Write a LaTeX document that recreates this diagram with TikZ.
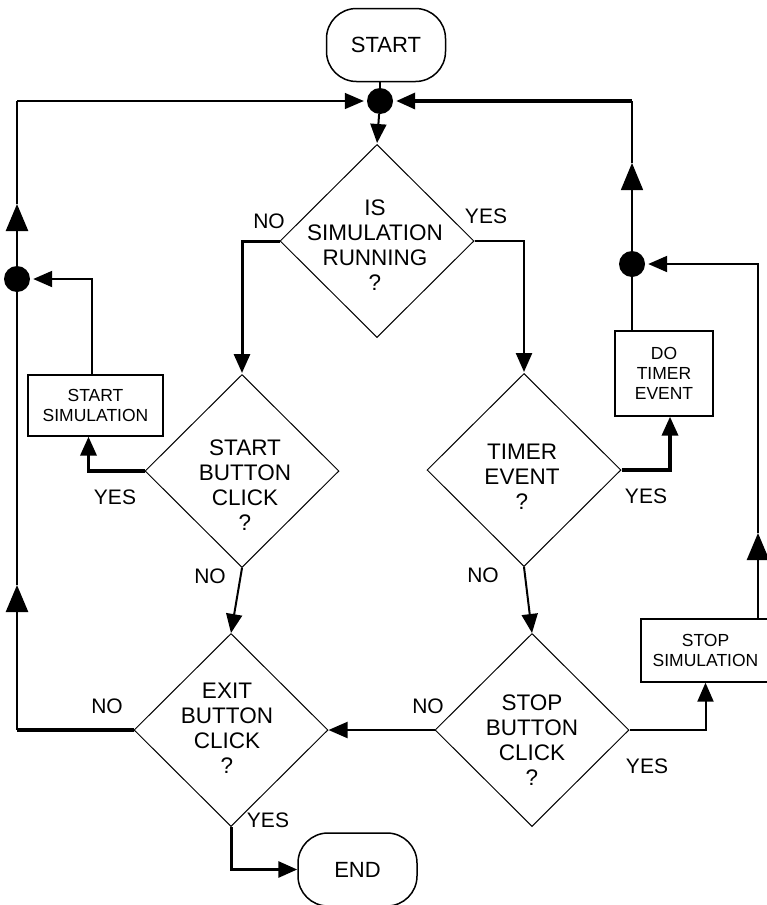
\documentclass[tikz,border=0pt]{standalone}
\usepackage{fontspec}
\setmainfont{Liberation Sans}
\usetikzlibrary{arrows.meta,shapes.geometric}
\begin{document}
\begin{tikzpicture}[x=1pt,y=-1pt,
  dia/.style={diamond,draw,line width=1pt,minimum width=194pt,minimum height=193pt,inner sep=0pt},
  dtext/.style={align=center,font=\fontsize{22.5}{25}\selectfont,inner sep=0pt},
  boxnode/.style={draw,line width=1.3pt,align=center,font=\fontsize{17.5}{20}\selectfont,inner sep=0pt},
  term/.style={draw,line width=1.5pt,rounded corners=30pt,minimum width=119pt,minimum height=73pt,font=\fontsize{22}{25}\selectfont},
  lbl/.style={font=\fontsize{21}{24}\selectfont,inner sep=0pt},
  jdot/.style={circle,fill,minimum size=26pt,inner sep=0pt},
  arr/.style={-{Triangle[length=19pt,width=16pt]}},
  bigarr/.style={-{Triangle[length=27pt,width=22pt]}},
  w15/.style={line width=1.5pt},
  w2/.style={line width=2pt},
  w25/.style={line width=2.5pt},
  w3/.style={line width=3pt},
  w35/.style={line width=3.5pt}]
\fill[white] (0,0) rectangle (767,905);
\useasboundingbox (0,0) rectangle (767,905);
% nodes
\node[term] (start) at (386,45) {START};
\node[jdot] (dot0) at (380,101) {};
\node[dia] (d1) at (377,241) {};
\node[dtext] (d1t) at (375,245) {IS\\SIMULATION\\RUNNING\\?};
\node[dia] (d2) at (242,471) {};
\node[dtext] (d2t) at (245,485) {START\\BUTTON\\CLICK\\?};
\node[dia] (d3) at (524,470) {};
\node[dtext] (d3t) at (522,477) {TIMER\\EVENT\\?};
\node[dia] (d4) at (231,730) {};
\node[dtext] (d4t) at (227,728) {EXIT\\BUTTON\\CLICK\\?};
\node[dia] (d5) at (532,730) {};
\node[dtext] (d5t) at (532,740) {STOP\\BUTTON\\CLICK\\?};
\node[boxnode,minimum width=135pt,minimum height=61pt] (ssim) at (95.5,405.5) {START\\SIMULATION};
\node[boxnode,minimum width=98pt,minimum height=85pt] (dte) at (664,373.5) {DO\\TIMER\\EVENT};
\node[boxnode,minimum width=129pt,minimum height=63pt] (stsim) at (705.5,650.5) {STOP\\SIMULATION};
\node[term] (end) at (357.5,869.5) {END};
\node[jdot] (dotL) at (17,279) {};
\node[jdot] (dotR) at (632,264) {};
% helper coordinates
\coordinate (lb) at (17,730);
\coordinate (la1) at (17,585);
\coordinate (la2) at (17,204);
\coordinate (lt) at (17,101);
\coordinate (ra1) at (632,163);
\coordinate (rt) at (632,101);
\coordinate (rb) at (758,619);
\coordinate (ra2) at (758,533);
% connectors
\draw[w2] (start.south -| dot0) -- (dot0);
\draw[w2,arr,shorten >=1pt] (dot0) -- (d1.north);
\draw[w3,arr,shorten >=1pt] (d1.west) -| (d2.north);
\draw[w25,arr,shorten >=1pt] (d1.east) -| (d3.north);
\draw[w35,arr] (d2.west) -| ([xshift=-7pt]ssim.south);
\draw[w35,arr] (d3.east) -| ([xshift=6pt]dte.south);
\draw[w2,arr] (d2.south) -- (d4.north);
\draw[w2,arr] (d3.south) -- (d5.north);
\draw[w2,arr] (d5.west) -- (d4.east);
\draw[w2,arr] (d5.east) -| (stsim.south);
\draw[w3,arr] (d4.south) |- (end.west);
\draw[w35] (d4.west) -- (lb);
\draw[w25,bigarr] (lb) -- (la1);
\draw[w25] (la1) -- (dotL);
\draw[w25,bigarr] (dotL) -- (la2);
\draw[w25] (la2) -- (lt);
\draw[w15,arr,shorten >=3pt] (lt) -- (dot0);
\draw[w2,arr,shorten >=3pt] ([xshift=-4pt]ssim.north) |- (dotL);
\draw[w15] (dte.north -| dotR) -- (dotR);
\draw[w15,bigarr] (dotR) -- (ra1);
\draw[w15] (ra1) -- (rt);
\draw[w35,arr,shorten >=3pt] (rt) -- (dot0);
\draw[w25,bigarr] (rb) -- (ra2);
\draw[w2,arr,shorten >=3pt] (ra2) |- (dotR);
% labels
\node[lbl] (n1) at (269,221) {NO};
\node[lbl] (y1) at (486,216) {YES};
\node[lbl] (y2) at (115,497) {YES};
\node[lbl] (n2) at (210,576) {NO};
\node[lbl] (y3) at (646,496) {YES};
\node[lbl] (n3) at (483,575) {NO};
\node[lbl] (n4) at (107,706) {NO};
\node[lbl] (n5) at (428,706) {NO};
\node[lbl] (y5) at (647,766) {YES};
\node[lbl] (y4) at (268,820) {YES};
\end{tikzpicture}
\end{document}
